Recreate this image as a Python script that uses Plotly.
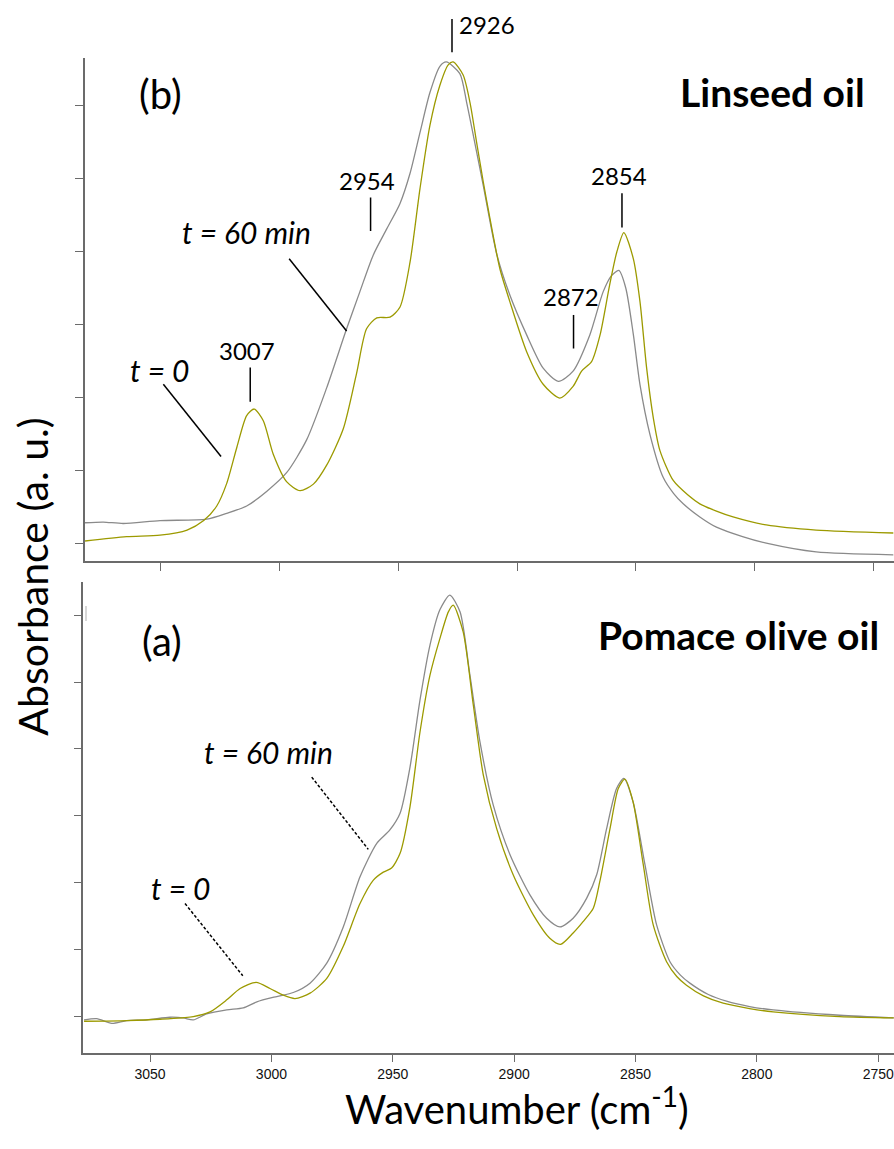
import plotly.graph_objects as go

# ---------------- data ----------------
# (b) Linseed oil, t = 0 (olive curve)
lin_t0_wn = [3082, 3064.5, 3050.4, 3039, 3032, 3026.5, 3022.3, 3018, 3013.9, 3010.7, 3006.9, 3002.7,
             2997, 2991.4, 2985.8, 2980.2, 2973.2, 2967.6, 2963.4, 2959.1, 2953.5, 2949.3, 2945.1,
             2940.9, 2936.7, 2932.5, 2929, 2926.9, 2922.7, 2919.8, 2917, 2914.2, 2911.4, 2907.2,
             2903, 2896, 2889, 2882, 2876.4, 2872.8, 2868.6, 2865, 2861, 2858, 2855, 2851, 2848.2,
             2845.4, 2842.6, 2839.8, 2834.2, 2828, 2823, 2816, 2809, 2795, 2774, 2741.5]
lin_t0_abs = [0.03, 0.09, 0.11, 0.18, 0.31, 0.51, 0.82, 1.32, 1.75, 1.84, 1.68, 1.22,
              0.84, 0.72, 0.81, 1.07, 1.57, 2.33, 2.94, 3.09, 3.10, 3.24, 3.85,
              4.86, 5.73, 6.28, 6.56, 6.60, 6.42, 6.04, 5.49, 4.95, 4.45, 3.76,
              3.31, 2.63, 2.18, 1.99, 2.15, 2.36, 2.49, 2.86, 3.54, 3.99, 4.26, 3.90, 3.31,
              2.40, 1.72, 1.27, 0.86, 0.66, 0.54, 0.44, 0.36, 0.25, 0.18, 0.14]

# (b) Linseed oil, t = 60 min (grey curve)
lin_t60_wn = [3082, 3074.3, 3065.9, 3050.4, 3030.7, 3022.3, 3013.9, 3005.5, 2997, 2988.6, 2980.2,
              2971.8, 2966.2, 2960.6, 2954.9, 2949.3, 2945.1, 2940.9, 2936.7, 2932.5, 2929.8,
              2924.1, 2921.2, 2918.4, 2914.2, 2908.6, 2903, 2896, 2889, 2882.6, 2876.4, 2869.3,
              2863.7, 2860.2, 2857.1, 2854.2, 2851, 2848.2, 2844, 2838.4, 2834, 2830, 2823, 2816,
              2805, 2795, 2774, 2741.5]
lin_t60_abs = [0.28, 0.29, 0.27, 0.31, 0.33, 0.41, 0.51, 0.71, 0.97, 1.42, 2.13,
               2.94, 3.45, 3.95, 4.31, 4.66, 5.07, 5.63, 6.18, 6.54, 6.60,
               6.44, 6.04, 5.59, 4.90, 3.97, 3.40, 2.86, 2.40, 2.22, 2.36, 2.86,
               3.45, 3.67, 3.74, 3.50, 2.86, 2.17, 1.49, 0.90, 0.68, 0.54, 0.36, 0.22,
               0.09, 0.00, -0.12, -0.16]

# (a) Pomace olive oil, t = 0 (olive curve)
pom_t0_wn = [3077.2, 3059.6, 3045.9, 3032.2, 3025.3, 3018.4, 3012.9, 3006.3, 3000.6, 2995.1,
             2990.3, 2984.1, 2977.2, 2970.4, 2963.5, 2958, 2953.9, 2950.5, 2947, 2942.9, 2938.8,
             2934.7, 2930.6, 2927.1, 2925.1, 2921, 2916.8, 2912.7, 2907.2, 2900.4, 2892.1,
             2885.3, 2880.9, 2875.7, 2871.6, 2867.4, 2864.7, 2860.5, 2857.1, 2854.4, 2851,
             2846.8, 2842.7, 2837.2, 2833, 2829, 2822, 2813.9, 2803, 2793.3, 2765.8, 2743.6]
pom_t0_abs = [-0.07, -0.06, -0.04, 0.00, 0.07, 0.25, 0.42, 0.51, 0.42, 0.32,
              0.27, 0.35, 0.57, 1.05, 1.69, 2.04, 2.16, 2.22, 2.44, 3.14, 4.25,
              5.10, 5.65, 6.05, 6.15, 5.75, 4.65, 3.61, 2.81, 2.12, 1.52,
              1.17, 1.08, 1.25, 1.42, 1.62, 2.02, 2.81, 3.41, 3.55, 3.21,
              2.27, 1.37, 0.82, 0.60, 0.47, 0.31, 0.20, 0.12, 0.07, 0.00, -0.02]

# (a) Pomace olive oil, t = 60 min (grey curve)
pom_t60_wn = [3077.2, 3072, 3065.8, 3059.6, 3051.4, 3041.8, 3036.3, 3032.2, 3026.7, 3018.4,
              3011.6, 3006, 2997.8, 2991, 2984.1, 2977.2, 2970.4, 2963.5, 2956.6, 2951.2, 2947,
              2942.9, 2938.8, 2934.7, 2930.6, 2926.5, 2922.3, 2918.2, 2914.1, 2908.6, 2901.7,
              2893.5, 2886.6, 2881.1, 2875.7, 2870.1, 2866, 2861.9, 2857.8, 2854.8, 2851,
              2846.1, 2841.3, 2835.8, 2831.5, 2827.6, 2820, 2812.5, 2803, 2793.3, 2765.8, 2743.6]
pom_t60_abs = [-0.05, -0.03, -0.10, -0.06, -0.05, -0.01, -0.02, -0.05, 0.04, 0.10,
               0.13, 0.22, 0.30, 0.36, 0.50, 0.80, 1.34, 2.09, 2.59, 2.79, 3.04,
               3.73, 4.73, 5.55, 6.08, 6.30, 6.05, 5.10, 4.11, 3.16, 2.42,
               1.82, 1.47, 1.34, 1.47, 1.77, 2.12, 2.81, 3.41, 3.56, 3.21,
               2.27, 1.37, 0.82, 0.62, 0.50, 0.33, 0.23, 0.15, 0.10, 0.02, -0.02]

x_ticks = [3050, 3000, 2950, 2900, 2850, 2800, 2750]
y_ticks = [0, 1, 2, 3, 4, 5, 6]

# ---------------- styles ----------------
OLIVE = "#9c9a00"
GREY = "#8a8a8a"
AXIS = "#6b6b6b"
TXT = "Lato, 'Open Sans', sans-serif"
TICKF = "'Liberation Sans', Arial, sans-serif"

fig = go.Figure()

def add_line(x, y, color, xa, ya):
    fig.add_trace(go.Scatter(x=x, y=y, mode="lines", xaxis=xa, yaxis=ya,
                             line=dict(color=color, width=1.3, shape="spline", smoothing=0.7),
                             showlegend=False, hoverinfo="skip"))

add_line(lin_t60_wn, lin_t60_abs, GREY, "x", "y")
add_line(lin_t0_wn, lin_t0_abs, OLIVE, "x", "y")
add_line(pom_t60_wn, pom_t60_abs, GREY, "x2", "y2")
add_line(pom_t0_wn, pom_t0_abs, OLIVE, "x2", "y2")

axis_common = dict(showline=True, linecolor=AXIS, linewidth=1.5, ticks="outside",
                   ticklen=8, tickwidth=1.3, tickcolor=AXIS, showgrid=False, zeroline=False,
                   mirror=False)

fig.update_layout(
    width=894, height=1149,
    margin=dict(l=0, r=0, t=0, b=0),
    plot_bgcolor="white", paper_bgcolor="white",
    xaxis=dict(domain=[0.0951, 1.0], range=[3082, 2741.2], anchor="y",
               tickvals=x_ticks, showticklabels=False, **axis_common),
    yaxis=dict(domain=[0.5117, 0.9499], range=[-0.245, 6.66], anchor="x",
               tickvals=y_ticks, showticklabels=False, **axis_common),
    xaxis2=dict(domain=[0.0932, 1.0], range=[3077.5, 2743.5], anchor="y2",
                tickvals=x_ticks, ticktext=[str(v) for v in x_ticks], showticklabels=True,
                ticklabeloverflow="allow",
                tickfont=dict(family=TICKF, size=14, color="#111"), **axis_common),
    yaxis2=dict(domain=[0.0838, 0.4937], range=[-0.54, 6.50], anchor="x2",
                tickvals=y_ticks, showticklabels=False, **axis_common),
)

ann = []
def txt(x, y, s, size, xref="x", yref="y", bold=False, italic=False, angle=0):
    t = s
    if bold:
        t = "<b>" + t + "</b>"
    if italic:
        t = "<i>" + t + "</i>"
    ann.append(dict(x=x, y=y, xref=xref, yref=yref, text=t, showarrow=False,
                    font=dict(family=TXT, size=size, color="black"),
                    xanchor="center", yanchor="middle", textangle=angle))

shapes = []
def seg(x0, y0, x1, y1, xref="x", yref="y", dash="solid", color="black", width=1.5):
    shapes.append(dict(type="line", x0=x0, y0=y0, x1=x1, y1=y1, xref=xref, yref=yref,
                       line=dict(color=color, width=width, dash=dash)))

# ---- panel (b) Linseed oil ----
txt(3050.4, 6.16, "(b)", 40)
txt(2792.4, 6.19, "Linseed oil", 39, bold=True)
txt(2912.8, 0.9790, "2926", 24, yref="paper")
seg(2927.4, 0.9835, 2927.4, 0.9545, yref="paper")
txt(2963.4, 4.98, "2954", 24)
seg(2961.7, 4.74, 2961.7, 4.28)
txt(3013.6, 2.64, "3007", 24)
seg(3012.4, 2.41, 3012.4, 1.94)
txt(2856.9, 5.04, "2854", 24)
seg(2855.8, 4.80, 2855.8, 4.33)
txt(2877.4, 3.38, "2872", 24)
seg(2876.2, 3.13, 2876.2, 2.67)
txt(3013.9, 4.27, "t = 60 min", 30, italic=True)
seg(2996.0, 3.90, 2971.8, 2.91)
txt(3050.8, 2.38, "t = 0", 30, italic=True)
seg(3049.0, 2.18, 3024.7, 1.19)

# ---- panel (a) Pomace olive oil ----
txt(3044.9, 5.61, "(a)", 40, xref="x2", yref="y2")
txt(2807.5, 5.70, "Pomace olive oil", 39, xref="x2", yref="y2", bold=True)
txt(3001.3, 3.96, "t = 60 min", 30, xref="x2", yref="y2", italic=True)
seg(2983.4, 3.58, 2960.1, 2.50, xref="x2", yref="y2", dash="3px,2px")
txt(3037.4, 1.92, "t = 0", 30, xref="x2", yref="y2", italic=True)
seg(3035.6, 1.69, 3011.8, 0.61, xref="x2", yref="y2", dash="3px,2px")
# small grey stroke near the top-left of panel (a)
seg(86 / 894, 1 - 606 / 1149, 86 / 894, 1 - 621 / 1149, xref="paper", yref="paper",
    color="#b0b0b0", width=1)

# ---- axis titles ----
txt(31.7 / 894, 1 - 577 / 1149, "Absorbance (a. u.)", 41, xref="paper", yref="paper", angle=-90)
txt(517 / 894, 1 - 1106 / 1149, "Wavenumber (cm<sup>-1</sup>)", 40, xref="paper", yref="paper")

fig.update_layout(annotations=ann, shapes=shapes)

fig.write_html("out.html", config={"displayModeBar": False},
               post_script="document.body.style.margin='0';document.body.style.overflow='hidden';")
